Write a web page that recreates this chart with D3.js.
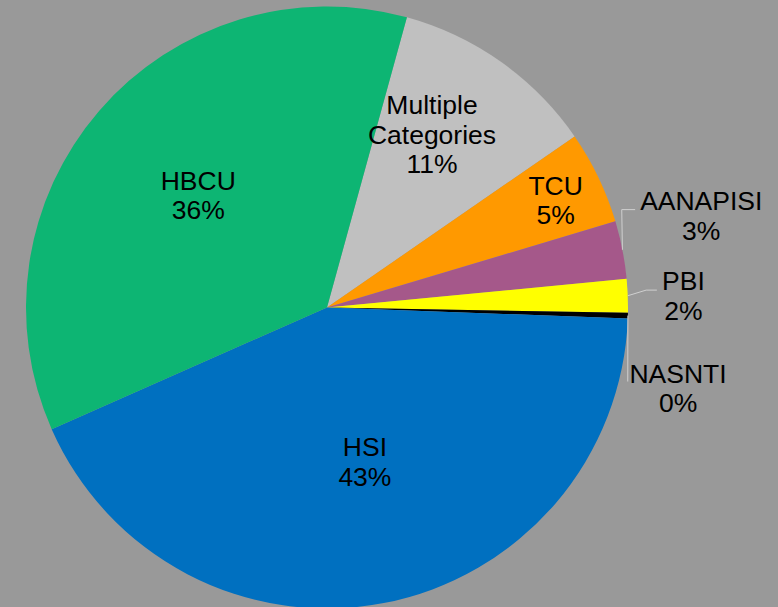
<!DOCTYPE html>
<html lang="en">
<head>
    <meta charset="UTF-8">
    <title>Institution Type Share</title>
    <style>
        body {
            margin: 0;
            padding: 0;
            background-color: #999999;
            overflow: hidden;
        }
        svg {
            display: block;
        }
        .label {
            font-family: 'Liberation Sans', Arial, sans-serif;
            font-size: 26.5px;
            fill: #000;
        }
    </style>
    <script src="https://d3js.org/d3.v7.min.js"></script>
</head>
<body>
    <div id="chart"></div>

    <script>
        // data, clockwise from the HBCU / Multiple Categories border
        var categories = ['Multiple Categories', 'TCU', 'AANAPISI', 'PBI', 'NASNTI', 'HSI', 'HBCU'];
        var shares = [11.1, 5.0, 3.1, 1.8, 0.3, 42.8, 35.9];
        var colors = ['#c0c0c0', '#ff9900', '#a5588a', '#ffff00', '#000000', '#0070c0', '#0db573'];

        var width = 778, height = 607;
        var cx = 327, cy = 307.5, R = 301;
        var startDeg = 15.4;

        // label placement: radius fraction along the slice mid angle, then a nudge
        var labelAt = {
            'Multiple Categories': { k: 0.70, dx: -17, dy: -21.5 },
            'TCU': { k: 0.85, dx: -2, dy: -2 },
            'AANAPISI': { k: 1.25, dx: 5, dy: -25, gap: 5, ey: -0.7, h: 13.4 },
            'PBI': { k: 1.18, dx: 1.5, dy: -3.5, gap: 5.2, ey: 0, h: 10.7 },
            'NASNTI': { k: 1.18, dx: -4, dy: 65.5, gap: 1.7, ey: -1, h: 0 },
            'HSI': { k: 0.50, dx: 9.5, dy: 1 },
            'HBCU': { k: 0.60, dx: 8, dy: 0 }
        };
        var lineGap = 29.5;

        var data = categories.map(function (c, i) {
            return { name: c, value: shares[i], color: colors[i] };
        });
        var total = d3.sum(shares);
        var pct = d3.format('.0%');

        var svg = d3.select('#chart')
            .append('svg')
            .attr('width', width)
            .attr('height', height);

        svg.append('rect')
            .attr('width', width)
            .attr('height', height)
            .attr('fill', '#999999');

        var g = svg.append('g')
            .attr('transform', 'translate(' + cx + ',' + cy + ')');

        var start = startDeg * Math.PI / 180;
        var pie = d3.pie()
            .sort(null)
            .value(function (d) { return d.value; })
            .startAngle(start)
            .endAngle(start + 2 * Math.PI);

        var arcs = pie(data);
        var arc = d3.arc().innerRadius(0).outerRadius(R);

        g.selectAll('path.slice')
            .data(arcs)
            .enter()
            .append('path')
            .attr('class', 'slice')
            .attr('d', arc)
            .attr('fill', function (d) { return d.data.color; });

        function polar(a, r) {
            return [r * Math.sin(a), -r * Math.cos(a)];
        }

        arcs.forEach(function (d) {
            var spec = labelAt[d.data.name];
            var mid = (d.startAngle + d.endAngle) / 2;
            var p = polar(mid, R * spec.k);
            var x = p[0] + spec.dx, y = p[1] + spec.dy;

            var lines = d.data.name.split(' ');
            lines.push(pct(d.data.value / total));

            var text = g.append('text')
                .attr('class', 'label')
                .attr('text-anchor', 'middle')
                .attr('x', x)
                .attr('y', y);

            lines.forEach(function (t, i) {
                text.append('tspan')
                    .attr('x', x)
                    .attr('y', y + i * lineGap)
                    .text(t);
            });

            // leader lines for the labels outside the pie
            if (spec.gap !== undefined) {
                var firstW = text.select('tspan').node().getComputedTextLength();
                var edge = polar(mid, R);
                var end = [x - firstW / 2 - spec.gap, y + spec.ey];
                var elbow = [end[0] - spec.h, end[1]];
                g.insert('path', 'text')
                    .attr('d', d3.line()([edge, elbow, end]))
                    .attr('fill', 'none')
                    .attr('stroke', '#d0d0d0')
                    .attr('stroke-width', 1);
            }
        });
    </script>
</body>
</html>
